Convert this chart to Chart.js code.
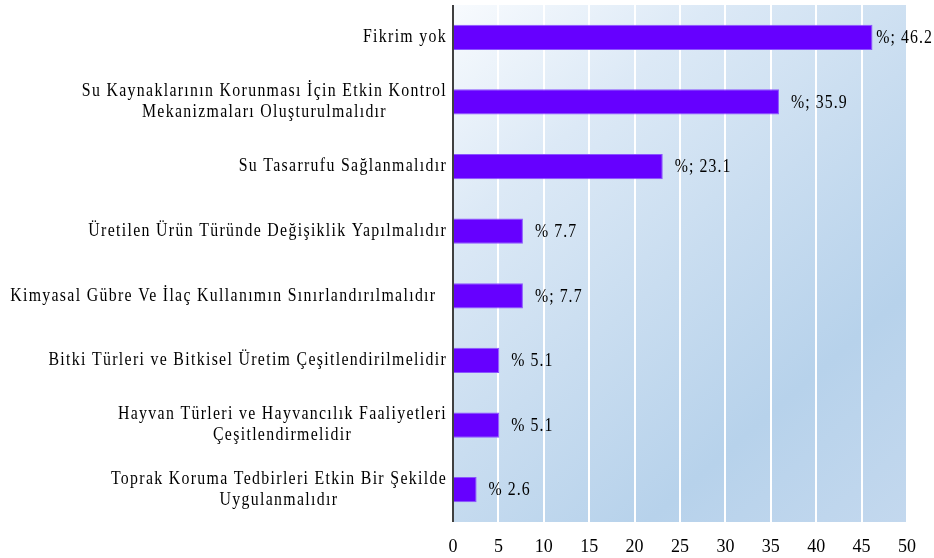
<!DOCTYPE html>
<html>
<head>
<meta charset="utf-8">
<script src="https://cdn.jsdelivr.net/npm/chart.js@4"></script>
<style>
  html, body { margin: 0; padding: 0; background: #fff; }
  #wrap { width: 934px; height: 558px; }
</style>
</head>
<body>
<div id="wrap"><canvas id="myChart" width="934" height="558"></canvas></div>
<script>
var categories = [
    'Fikrim yok',
    ['Su Kaynaklarının Korunması İçin Etkin Kontrol', 'Mekanizmaları Oluşturulmalıdır'],
    'Su Tasarrufu Sağlanmalıdır',
    'Üretilen Ürün Türünde Değişiklik Yapılmalıdır',
    'Kimyasal Gübre Ve İlaç Kullanımın Sınırlandırılmalıdır  ',
    'Bitki Türleri ve Bitkisel Üretim Çeşitlendirilmelidir',
    ['Hayvan Türleri ve Hayvancılık Faaliyetleri', 'Çeşitlendirmelidir'],
    ['Toprak Koruma Tedbirleri Etkin Bir Şekilde', 'Uygulanmalıdır']
];
var values = [46.2, 35.9, 23.1, 7.7, 7.7, 5.1, 5.1, 2.6];
var valueLabels = ['%; 46.2', '%; 35.9', '%; 23.1', '% 7.7', '%; 7.7', '% 5.1', '% 5.1', '% 2.6'];
var xTicks = [0, 5, 10, 15, 20, 25, 30, 35, 40, 45, 50];

var serif = '"Liberation Serif", "Times New Roman", serif';
var squeeze = 0.88; // text in the original is tall and narrow

// gradient panel behind the bars
var panelPlugin = {
    id: 'panel',
    beforeDraw: function (chart) {
        var a = chart.chartArea;
        var ctx = chart.ctx;
        var g = ctx.createLinearGradient(a.left, a.top, a.right, a.bottom);
        g.addColorStop(0, '#f8fbfe');
        g.addColorStop(0.25, '#dce9f6');
        g.addColorStop(0.5, '#c9ddf0');
        g.addColorStop(0.75, '#b7d2eb');
        g.addColorStop(1, '#c3d8ee');
        ctx.save();
        ctx.fillStyle = g;
        ctx.fillRect(a.left, a.top, a.right - a.left, a.bottom - a.top);
        ctx.restore();
    }
};

function squeezedText(ctx, text, x, y) {
    ctx.save();
    ctx.translate(x, y);
    ctx.scale(squeeze, 1);
    ctx.fillText(text, 0, 0);
    ctx.restore();
}

// category labels (centered lines, block right-aligned) and value labels
var labelPlugin = {
    id: 'labels',
    afterDraw: function (chart) {
        var ctx = chart.ctx;
        var a = chart.chartArea;
        var yScale = chart.scales.y;
        ctx.save();
        ctx.font = '18px ' + serif;
        ctx.letterSpacing = '1.5px';
        ctx.fillStyle = '#000';
        ctx.textBaseline = 'middle';
        ctx.textAlign = 'center';
        var lineH = 21;
        categories.forEach(function (lab, i) {
            var lines = Array.isArray(lab) ? lab : [lab];
            var w = 0;
            lines.forEach(function (l) { w = Math.max(w, ctx.measureText(l).width * squeeze); });
            var cx = a.left - 6 - w / 2;
            var cy = yScale.getPixelForTick(i);
            var y0 = cy - (lines.length - 1) * lineH / 2;
            lines.forEach(function (l, k) {
                squeezedText(ctx, l, cx, y0 + k * lineH);
            });
        });
        ctx.textAlign = 'left';
        ctx.letterSpacing = '1.2px';
        var meta = chart.getDatasetMeta(0);
        meta.data.forEach(function (bar, i) {
            var tw = ctx.measureText(valueLabels[i]).width * squeeze;
            var x = Math.min(bar.x + 12, chart.width - tw - 1);
            squeezedText(ctx, valueLabels[i], x, bar.y + 1);
        });
        // y axis line
        ctx.strokeStyle = '#000';
        ctx.lineWidth = 1.5;
        ctx.beginPath();
        ctx.moveTo(a.left, a.top);
        ctx.lineTo(a.left, a.bottom);
        ctx.stroke();
        ctx.restore();
    }
};

var ctx = document.getElementById('myChart').getContext('2d');
var currentChart = new Chart(ctx, {
    type: 'bar',
    data: {
        labels: categories,
        datasets: [{
            label: 'Dataset',
            data: values,
            backgroundColor: '#6600ff',
            borderColor: '#8a55ff',
            borderWidth: 1,
            barPercentage: 0.39,
            categoryPercentage: 1
        }]
    },
    options: {
        indexAxis: 'y',
        responsive: false,
        animation: false,
        layout: { padding: { top: 5, right: 27, left: 0, bottom: 0 } },
        plugins: {
            legend: { display: false },
            tooltip: { enabled: false }
        },
        scales: {
            x: {
                min: 0,
                max: 50,
                afterBuildTicks: function (scale) {
                    scale.ticks = xTicks.map(function (v) { return { value: v }; });
                },
                afterFit: function (scale) { scale.height = 36; },
                grid: { color: '#ffffff', lineWidth: 2, drawTicks: false },
                border: { display: false },
                ticks: {
                    color: '#000',
                    padding: 14,
                    maxRotation: 0,
                    font: { family: serif, size: 18 }
                }
            },
            y: {
                afterFit: function (scale) { scale.width = 453; },
                grid: { display: false },
                border: { display: false },
                ticks: { display: false }
            }
        }
    },
    plugins: [panelPlugin, labelPlugin]
});
</script>
</body>
</html>
